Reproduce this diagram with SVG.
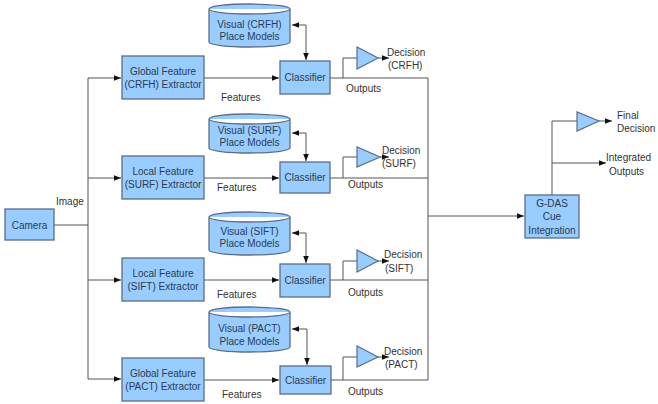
<svg xmlns="http://www.w3.org/2000/svg" width="658" height="404" viewBox="0 0 658 404">
<style>
.box{fill:#99ccff;stroke:#5b6e87;stroke-width:1.3}
.cyl{fill:#99ccff;stroke:#5b6e87;stroke-width:1.3}
.tri{fill:#99ccff;stroke:#5b6e87;stroke-width:1.2}
.ln{fill:none;stroke:#555;stroke-width:1}
.bt{font-family:"Liberation Sans",Arial,sans-serif;font-size:10px;fill:#2a3b52;text-anchor:middle}
.lb{font-family:"Liberation Sans",Arial,sans-serif;font-size:10px;fill:#333}
</style>
<defs>
<marker id="ah" viewBox="0 0 10 10" refX="10" refY="5" markerWidth="7" markerHeight="7" orient="auto-start-reverse" markerUnits="userSpaceOnUse">
<path d="M0 1 L10 5 L0 9 Z" fill="#111"/>
</marker>
</defs>
<rect width="658" height="404" fill="#fff"/>
<g id="connectors">
<path class="ln" d="M54 225 H88"/>
<path class="ln" d="M88 78 V379"/>
<path class="ln" d="M88 78 H121" marker-end="url(#ah)"/>
<path class="ln" d="M88 178 H121" marker-end="url(#ah)"/>
<path class="ln" d="M88 280 H121" marker-end="url(#ah)"/>
<path class="ln" d="M88 379 H121" marker-end="url(#ah)"/>
<path class="ln" d="M204 78 H279" marker-end="url(#ah)"/>
<path class="ln" d="M204 178 H279" marker-end="url(#ah)"/>
<path class="ln" d="M204 280 H279" marker-end="url(#ah)"/>
<path class="ln" d="M204 380 H279" marker-end="url(#ah)"/>
<path class="ln" d="M292 25 H306 V60" marker-start="url(#ah)" marker-end="url(#ah)"/>
<path class="ln" d="M292 133 H306 V161" marker-start="url(#ah)" marker-end="url(#ah)"/>
<path class="ln" d="M292 233 H306 V263" marker-start="url(#ah)" marker-end="url(#ah)"/>
<path class="ln" d="M292 329 H307 V365" marker-start="url(#ah)" marker-end="url(#ah)"/>
<path class="ln" d="M330 78 H428"/>
<path class="ln" d="M330 178 H428"/>
<path class="ln" d="M330 280 H428"/>
<path class="ln" d="M331 380 H428"/>
<path class="ln" d="M343 78 V58 H357"/>
<path class="ln" d="M343 178 V157 H357"/>
<path class="ln" d="M343 280 V261 H357"/>
<path class="ln" d="M343 380 V357 H357"/>
<path class="ln" d="M378 58 H389" marker-end="url(#ah)"/>
<path class="ln" d="M380 157 H389" marker-end="url(#ah)"/>
<path class="ln" d="M378 261 H389" marker-end="url(#ah)"/>
<path class="ln" d="M378 357 H389" marker-end="url(#ah)"/>
<path class="ln" d="M428 78 V380"/>
<path class="ln" d="M428 216 H524" marker-end="url(#ah)"/>
<path class="ln" d="M552 195 V121 H577"/>
<path class="ln" d="M599 121 H612" marker-end="url(#ah)"/>
<path class="ln" d="M552 163 H606" marker-end="url(#ah)"/>
</g>
<g id="camera"><rect class="box" x="5" y="209" width="49" height="31"/><text class="bt" x="29.5" y="228.5">Camera</text></g>
<g id="ext-crfh"><rect class="box" x="122" y="56" width="82" height="43"/><text class="bt" x="163" y="74.5">Global Feature</text><text class="bt" x="163" y="87.5">(CRFH) Extractor</text></g>
<g id="ext-surf"><rect class="box" x="122" y="156" width="82" height="43"/><text class="bt" x="163" y="174.5">Local Feature</text><text class="bt" x="163" y="187.5">(SURF) Extractor</text></g>
<g id="ext-sift"><rect class="box" x="122" y="258" width="82" height="43"/><text class="bt" x="163" y="276.5">Local Feature</text><text class="bt" x="163" y="289.5">(SIFT) Extractor</text></g>
<g id="ext-pact"><rect class="box" x="122" y="358" width="82" height="43"/><text class="bt" x="163" y="376.5">Global Feature</text><text class="bt" x="163" y="389.5">(PACT) Extractor</text></g>
<g id="db-crfh"><path class="cyl" d="M209 9 A40.5 5 0 0 1 290 9 V42 A40.5 5 0 0 1 209 42 Z M209 9 A40.5 5 0 0 0 290 9"/><text class="bt" x="249.5" y="27.5">Visual (CRFH)</text><text class="bt" x="249.5" y="39.5">Place Models</text></g>
<g id="db-surf"><path class="cyl" d="M209 119 A40.5 5 0 0 1 290 119 V148 A40.5 5 0 0 1 209 148 Z M209 119 A40.5 5 0 0 0 290 119"/><text class="bt" x="249.5" y="133.5">Visual (SURF)</text><text class="bt" x="249.5" y="146">Place Models</text></g>
<g id="db-sift"><path class="cyl" d="M209 217 A40.5 5 0 0 1 290 217 V250 A40.5 5 0 0 1 209 250 Z M209 217 A40.5 5 0 0 0 290 217"/><text class="bt" x="249.5" y="234.5">Visual (SIFT)</text><text class="bt" x="249.5" y="246.5">Place Models</text></g>
<g id="db-pact"><path class="cyl" d="M209 312 A40.5 5 0 0 1 290 312 V347 A40.5 5 0 0 1 209 347 Z M209 312 A40.5 5 0 0 0 290 312"/><text class="bt" x="249.5" y="331.5">Visual (PACT)</text><text class="bt" x="249.5" y="344.5">Place Models</text></g>
<g id="cls-crfh"><rect class="box" x="280" y="61" width="50" height="33"/><text class="bt" x="305" y="81">Classifier</text></g>
<g id="cls-surf"><rect class="box" x="280" y="162" width="50" height="31"/><text class="bt" x="305" y="181">Classifier</text></g>
<g id="cls-sift"><rect class="box" x="280" y="264" width="50" height="33"/><text class="bt" x="305" y="284">Classifier</text></g>
<g id="cls-pact"><rect class="box" x="280" y="366" width="51" height="28"/><text class="bt" x="305.5" y="383.5">Classifier</text></g>
<g id="dec-crfh"><polygon class="tri" points="357,47 357,69 378,58"/></g>
<g id="dec-surf"><polygon class="tri" points="357,147 357,167 380,157"/></g>
<g id="dec-sift"><polygon class="tri" points="357,250 357,272 378,261"/></g>
<g id="dec-pact"><polygon class="tri" points="357,346 357,367 378,357"/></g>
<g id="gdas"><rect class="box" x="525" y="195" width="54" height="43"/><text class="bt" x="552" y="206.5">G-DAS</text><text class="bt" x="552" y="220">Cue</text><text class="bt" x="552" y="233.5">Integration</text></g>
<g id="final"><polygon class="tri" points="577,112 577,131 599,121"/></g>
<g id="labels">
<text class="lb" x="56" y="204.5">Image</text>
<text class="lb" x="221" y="100.5">Features</text>
<text class="lb" x="217" y="190.5">Features</text>
<text class="lb" x="217" y="297.5">Features</text>
<text class="lb" x="222" y="397.5">Features</text>
<text class="lb" x="346" y="91.5">Outputs</text>
<text class="lb" x="348" y="187.5">Outputs</text>
<text class="lb" x="348" y="295.5">Outputs</text>
<text class="lb" x="348" y="394.5">Outputs</text>
<text class="lb" x="387" y="55.5">Decision</text>
<text class="lb" x="388" y="68.5">(CRFH)</text>
<text class="lb" x="382" y="153.5">Decision</text>
<text class="lb" x="382" y="166.5">(SURF)</text>
<text class="lb" x="384" y="257.5">Decision</text>
<text class="lb" x="385" y="271.5">(SIFT)</text>
<text class="lb" x="384" y="354.5">Decision</text>
<text class="lb" x="385" y="367.5">(PACT)</text>
<text class="lb" x="617" y="118.5">Final</text>
<text class="lb" x="617" y="131.5">Decision</text>
<text class="lb" x="606" y="160.5">Integrated</text>
<text class="lb" x="609" y="174.5">Outputs</text>
</g>
</svg>
